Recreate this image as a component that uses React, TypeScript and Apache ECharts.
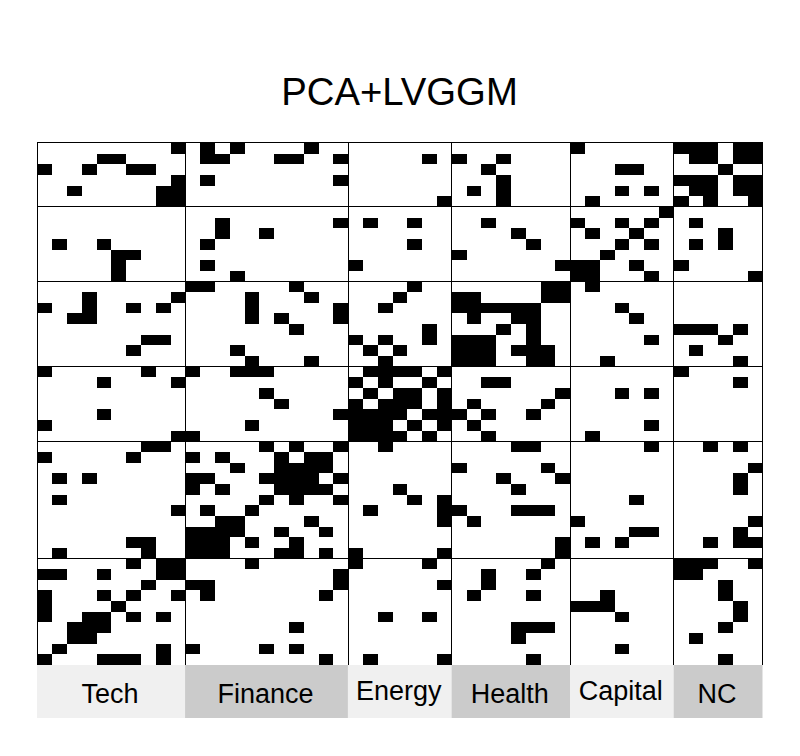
import React, { useEffect, useRef } from "react";
import * as echarts from "echarts";

const titleText = "PCA+LVGGM";
const groupNames = ["Tech", "Finance", "Energy", "Health", "Capital", "NC"];
const groupSizes = [10, 11, 7, 8, 7, 6];
const groupColors = ["#f0f0f0", "#cbcbcb", "#f0f0f0", "#cbcbcb", "#f0f0f0", "#cbcbcb"];

// Black columns of each row of the 49x49 adjacency matrix, top row first.
const matrixRows: number[][] = [
  [9, 11, 13, 18, 36, 43, 44, 45, 47, 48],
  [4, 5, 11, 12, 16, 17, 20, 26, 28, 31, 44, 45, 47, 48],
  [0, 3, 6, 7, 30, 39, 40, 46],
  [9, 11, 20, 31, 43, 44, 45, 47, 48],
  [2, 8, 9, 29, 31, 39, 41, 44, 45, 47, 48],
  [8, 9, 27, 31, 37, 43, 45, 48],
  [42],
  [12, 20, 22, 25, 30, 36, 39, 41, 44],
  [12, 15, 32, 37, 40, 46],
  [1, 4, 11, 25, 33, 39, 41, 44, 46],
  [5, 6, 28, 38],
  [5, 11, 21, 35, 36, 37, 40, 43],
  [5, 13, 36, 37, 41, 48],
  [10, 11, 17, 25, 34, 35, 37],
  [3, 9, 14, 18, 24, 28, 29, 34, 35],
  [0, 3, 6, 8, 14, 20, 23, 28, 29, 30, 31, 32, 33, 39],
  [2, 3, 14, 16, 20, 29, 32, 33, 40],
  [17, 26, 31, 33, 43, 44, 45, 47],
  [7, 8, 21, 23, 26, 28, 29, 30, 33, 41, 46],
  [6, 13, 22, 24, 28, 29, 30, 32, 33, 34, 44],
  [14, 18, 23, 28, 29, 30, 33, 34, 38, 47],
  [0, 7, 10, 13, 14, 15, 22, 23, 24, 25, 27, 43],
  [4, 9, 21, 23, 26, 30, 31, 47],
  [15, 22, 24, 25, 27, 35, 39, 41],
  [16, 21, 23, 24, 25, 27, 29, 34],
  [4, 20, 21, 22, 23, 24, 26, 27, 28, 30, 33],
  [0, 14, 21, 22, 23, 25, 27, 29, 41],
  [9, 10, 21, 22, 23, 24, 26, 30, 37],
  [7, 8, 15, 17, 20, 23, 32, 33, 41, 45, 47],
  [0, 6, 10, 12, 16, 18, 19],
  [13, 16, 17, 18, 19, 28, 34, 48],
  [1, 3, 10, 11, 15, 16, 17, 18, 20, 31, 35, 47],
  [10, 12, 16, 17, 18, 19, 24, 32, 47],
  [1, 15, 17, 20, 25, 27, 40],
  [9, 11, 14, 22, 27, 28, 32, 33, 34],
  [12, 13, 18, 27, 29, 36, 48],
  [10, 11, 12, 13, 16, 19, 40, 41, 47],
  [6, 7, 10, 11, 12, 14, 17, 35, 37, 39, 45, 47, 48],
  [1, 7, 10, 11, 12, 16, 17, 19, 21, 27, 35],
  [6, 8, 9, 14, 21, 26, 34, 43, 44, 45, 48],
  [0, 1, 4, 8, 9, 20, 30, 33, 43, 44],
  [7, 10, 11, 20, 27, 30, 46],
  [0, 4, 6, 9, 11, 19, 29, 33, 38, 46],
  [0, 5, 36, 37, 38, 47],
  [0, 3, 4, 6, 8, 23, 26, 39, 47],
  [2, 3, 4, 17, 32, 33, 34, 46],
  [2, 3, 32, 44],
  [1, 8, 10, 15, 17, 39],
  [0, 4, 5, 6, 8, 19, 22, 27, 33, 46],
];

const FONT = "Liberation Sans";

function cuts(sizes: number[]): number[] {
  const out = [0];
  sizes.forEach((s) => out.push(out[out.length - 1] + s));
  return out;
}

export default function App() {
  const ref = useRef<HTMLDivElement>(null);

  useEffect(() => {
    document.body.style.margin = "0";
    const chart = echarts.init(ref.current!, undefined, { renderer: "svg" });
    const total = groupSizes.reduce((a, b) => a + b, 0);
    const cells: number[][] = [];
    matrixRows.forEach((cols, r) => cols.forEach((c) => cells.push([c, r])));
    const colCuts = cuts(groupSizes);
    const rowCuts = cuts([...groupSizes].reverse()).slice(0, -1);
    const lineData: number[][] = [
      ...colCuts.map((v) => [0, v]),
      ...rowCuts.map((v) => [1, v]),
    ];

    const option: any = {
      animation: false,
      backgroundColor: "#ffffff",
      title: {
        text: titleText,
        left: 394.5,
        top: 67,
        textAlign: "center",
        textStyle: { fontFamily: FONT, fontSize: 38.3, fontWeight: "normal", color: "#000" },
      },
      grid: [
        { left: 37.5, top: 143, width: 725, height: 522 },
        { left: 37, top: 665, width: 725.5, height: 53 },
      ],
      xAxis: [
        { type: "value", gridIndex: 0, min: 0, max: total, show: false },
        { type: "value", gridIndex: 1, min: 0, max: total, show: false },
      ],
      yAxis: [
        { type: "value", gridIndex: 0, min: 0, max: total, inverse: true, show: false },
        { type: "category", gridIndex: 1, data: ["groups"], show: false },
      ],
      series: [
        {
          type: "custom",
          name: "edges",
          xAxisIndex: 0,
          yAxisIndex: 0,
          silent: true,
          clip: false,
          data: cells,
          renderItem: (_p: any, api: any) => {
            const a = api.coord([api.value(0), api.value(1)]);
            const b = api.coord([api.value(0) + 1, api.value(1) + 1]);
            const x = Math.round(a[0]);
            const y = Math.round(a[1]);
            return {
              type: "rect",
              shape: { x, y, width: Math.round(b[0]) - x, height: Math.round(b[1]) - y },
              style: { fill: "#000" },
            };
          },
        },
        {
          type: "custom",
          name: "group lines",
          xAxisIndex: 0,
          yAxisIndex: 0,
          silent: true,
          clip: false,
          z: 3,
          data: lineData,
          renderItem: (_p: any, api: any) => {
            const vertical = api.value(0) === 0;
            const v = api.value(1);
            const p = api.coord(vertical ? [v, 0] : [0, v]);
            const q = api.coord(vertical ? [v, total] : [total, v]);
            const fx = Math.floor(p[0]) + 0.5;
            const fy = Math.round(p[1] - 0.6) + 0.5;
            return {
              type: "line",
              shape: vertical
                ? { x1: fx, y1: Math.round(p[1] - 0.6), x2: fx, y2: q[1] }
                : { x1: Math.floor(p[0]), y1: fy, x2: q[0], y2: fy },
              style: { stroke: "#000", lineWidth: 1 },
            };
          },
        },
        ...groupNames.map((name, i) => ({
          type: "bar",
          name,
          xAxisIndex: 1,
          yAxisIndex: 1,
          stack: "groups",
          barWidth: "100%",
          silent: true,
          z: 4,
          data: [groupSizes[i]],
          itemStyle: { color: groupColors[i] },
          label: {
            show: true,
            position: "inside",
            formatter: name,
            offset: [-1, /[gpqy]/.test(name) ? -1 : 2],
            fontFamily: FONT,
            fontSize: 27,
            color: "#000",
          },
        })),
      ],
    };
    chart.setOption(option);
    return () => chart.dispose();
  }, []);

  return <div ref={ref} style={{ width: 800, height: 756 }} />;
}
